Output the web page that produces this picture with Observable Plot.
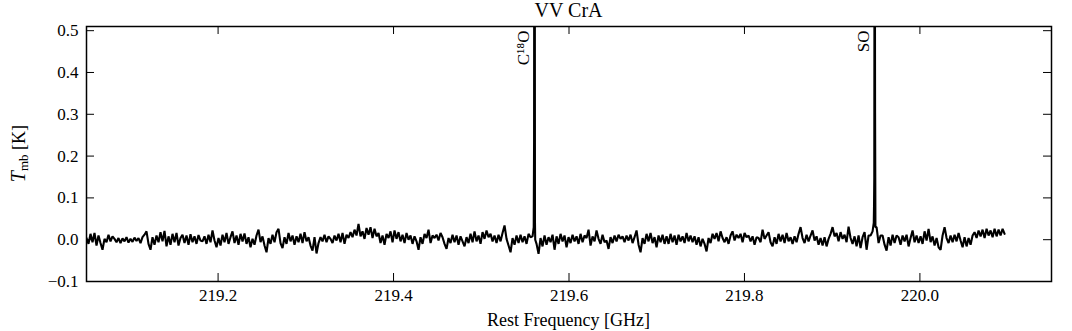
<!DOCTYPE html>
<html>
<head>
<meta charset="utf-8">
<script src="https://cdn.jsdelivr.net/npm/d3@7"></script>
<script src="https://cdn.jsdelivr.net/npm/@observablehq/plot@0.6"></script>
<style>
  html, body { margin: 0; padding: 0; background: #fff; overflow: hidden; }
  #title {
    width: 965px; padding-left: 86px; padding-right: 21px;
    height: 20px; line-height: 20px; text-align: center;
    font-family: "Liberation Serif", serif; font-size: 20px; color: #000;
  }
</style>
</head>
<body>
<div id="title">VV CrA</div>
<div id="chart"></div>
<script>
// ---- data -------------------------------------------------------------
const freqStart = 219.05;       // GHz, first channel
const channelWidth = 0.00228;   // GHz per channel
const xDomain = [219.05, 220.15];
const yDomain = [-0.1, 0.51];
const xTicks = [219.2, 219.4, 219.6, 219.8, 220.0];
const yTicks = [-0.1, 0.0, 0.1, 0.2, 0.3, 0.4, 0.5];
const lineNames = ["C¹⁸O", "SO"];
const lineFreqs = [219.5607, 219.9483];

// T_mb [K] per channel
const tmbSeg1 = [0.004, -0.010, 0.014, -0.006, 0.016, -0.014, 0.010, -0.008, -0.024, 0.002,
  -0.006, 0.012, -0.004, 0.008, 0.002, -0.006, 0.004, -0.008, 0.003, -0.004,
  0.006, -0.007, 0.002, -0.005, 0.005, -0.003, 0.004, -0.008, 0.006, 0.012,
  0.020, -0.010, -0.024, 0.006, -0.012, 0.010, -0.006, 0.018, -0.004, 0.021,
  -0.016, 0.008, -0.012, 0.014, -0.006, 0.016, -0.014, 0.004, 0.012, -0.008,
  0.010, -0.012, 0.013, -0.006, 0.008, -0.010, 0.011, -0.002];
const tmbSeg2 = [-0.004, 0.008, -0.010, 0.012, -0.006, 0.022, -0.002, -0.018, 0.004, -0.014,
  0.012, -0.006, 0.016, -0.010, 0.006, 0.020, -0.008, 0.010, -0.012, 0.014,
  -0.004, 0.015, -0.010, 0.006, -0.018, 0.002, -0.012, 0.010, 0.024, -0.006,
  0.008, -0.014, -0.030, 0.004, -0.010, 0.012, -0.006, 0.018, 0.026, -0.008,
  -0.020, 0.006, -0.010, 0.016, -0.004, 0.010, -0.012, 0.008, -0.006, 0.014,
  -0.008, 0.018, -0.004, 0.006, -0.014, -0.026, 0.006, -0.033];
const tmbSeg3 = [-0.008, 0.006, -0.004, 0.012, -0.006, 0.008, 0.002, -0.008, 0.010, -0.002,
  0.014, -0.006, 0.016, -0.010, 0.012, 0.004, 0.018, 0.006, 0.024, 0.010,
  0.038, 0.008, 0.020, 0.002, 0.028, 0.012, 0.030, 0.004, 0.026, 0.008,
  0.016, -0.008, 0.010, -0.012, 0.014, 0.004, 0.020, -0.006, 0.022, 0.002,
  0.018, -0.004, 0.012, -0.008, 0.016, 0.000, 0.010, -0.010, 0.008, -0.004,
  -0.024, 0.006, -0.010, 0.014, 0.004, 0.024, -0.008, 0.010];
const tmbSeg4 = [0.004, 0.012, -0.002, 0.016, 0.006, -0.010, -0.022, 0.004, -0.008, 0.012,
  -0.006, 0.010, -0.012, 0.008, -0.004, -0.016, 0.006, -0.008, 0.014, -0.006,
  0.020, -0.004, 0.010, -0.010, 0.018, 0.002, 0.022, 0.006, 0.014, -0.004,
  0.010, -0.008, 0.012, -0.004, 0.016, 0.034, 0.002, -0.014, -0.030, 0.004,
  -0.012, 0.010, -0.008, 0.012, -0.006, 0.008, -0.010, 0.014, 0.006, 0.008,
  1.200, -0.010, -0.034, 0.004, -0.016, 0.010, -0.012, 0.006];
const tmbSeg5 = [-0.006, 0.012, -0.024, 0.008, -0.010, 0.014, -0.004, 0.010, -0.018, 0.006,
  -0.008, 0.012, -0.004, 0.008, -0.010, 0.014, -0.006, 0.010, 0.004, 0.024,
  -0.014, 0.008, -0.004, 0.022, 0.002, -0.010, 0.012, -0.006, -0.002, -0.022,
  0.006, -0.008, 0.010, -0.004, 0.012, 0.002, 0.008, -0.006, 0.010, -0.002,
  0.012, -0.008, 0.006, 0.022, -0.012, -0.030, 0.004, -0.010, 0.014, -0.004,
  0.016, -0.008, 0.006, -0.018, 0.010, -0.006, 0.012, -0.010];
const tmbSeg6 = [0.008, -0.010, 0.014, -0.006, 0.010, -0.012, 0.012, -0.004, 0.008, -0.008,
  0.016, -0.004, 0.010, -0.006, 0.008, -0.012, 0.006, -0.016, 0.002, -0.010,
  -0.028, 0.004, -0.008, 0.014, 0.002, 0.016, -0.004, 0.020, 0.004, -0.006,
  0.006, -0.010, 0.010, 0.020, -0.002, 0.012, 0.004, 0.014, -0.006, 0.016,
  0.006, 0.010, -0.004, 0.008, -0.012, 0.006, 0.004, -0.006, 0.024, 0.002,
  0.010, 0.018, -0.006, -0.016, 0.006, -0.010, 0.014, -0.004];
const tmbSeg7 = [0.012, -0.008, 0.016, -0.004, 0.006, -0.010, 0.008, -0.006, 0.014, 0.030,
  0.004, -0.008, 0.012, -0.004, 0.010, 0.022, -0.002, 0.008, -0.012, 0.004,
  -0.014, 0.006, -0.016, 0.002, 0.014, 0.030, 0.008, 0.016, -0.004, 0.018,
  0.002, 0.012, -0.006, 0.031, 0.004, -0.010, 0.008, -0.016, 0.010, -0.020,
  0.006, 0.018, -0.024, 0.010, 0.010, 0.020, 0.900, 0.030, -0.008, 0.010,
  0.010, -0.012, -0.026, 0.006, -0.014, 0.012, -0.008, 0.010];
const tmbSeg8 = [0.006, -0.012, 0.010, -0.004, 0.012, -0.016, 0.004, 0.022, -0.006, 0.010,
  -0.008, 0.008, -0.010, 0.020, -0.002, 0.026, -0.006, 0.008, -0.014, 0.004,
  -0.018, -0.024, 0.010, 0.030, 0.004, -0.008, 0.010, -0.006, 0.012, -0.004,
  0.016, -0.002, -0.018, 0.006, -0.016, 0.004, -0.012, 0.010, 0.018, 0.004,
  0.022, 0.008, 0.024, 0.004, 0.026, 0.010, 0.022, 0.006, 0.026, 0.008,
  0.024, 0.010, 0.026, 0.014];

// finely sampled line cores (GHz, K)
const c18oCoreFreq = [219.5598, 219.5602, 219.5605, 219.5609, 219.5612, 219.5615];
const c18oCoreTmb  = [0.030, 0.233, 1.200, 1.100, 0.042, 0.000];
const soCoreFreq = [219.9474, 219.9477, 219.9480, 219.9483, 219.9486, 219.9489, 219.9493];
const soCoreTmb  = [0.040, 0.080, 0.150, 0.900, 0.850, 0.305, 0.030];

// ---- build ------------------------------------------------------------
const tmb = [].concat(tmbSeg1, tmbSeg2, tmbSeg3, tmbSeg4, tmbSeg5, tmbSeg6, tmbSeg7, tmbSeg8);
const grid = tmb.map((t, i) => ({freq: freqStart + i * channelWidth, tmb: t}));
const cores = c18oCoreFreq.map((f, i) => ({freq: f, tmb: c18oCoreTmb[i]}))
  .concat(soCoreFreq.map((f, i) => ({freq: f, tmb: soCoreTmb[i]})));
const spectrum = grid.concat(cores).sort((a, b) => a.freq - b.freq);
const lineLabels = lineNames.map((name, i) => ({name, freq: lineFreqs[i]}));

const W = 1072, H = 311;
const mL = 86, mR = 21, mT = 6, mB = 50;
const frameW = W - mL - mR, frameH = H - mT - mB;
const tickLen = 8;
const fmt = d3.format(".1f");

const chart = Plot.plot({
  width: W, height: H,
  marginLeft: mL, marginRight: mR, marginTop: mT, marginBottom: mB,
  style: {fontFamily: '"Liberation Serif", serif', fontSize: "17px", color: "black", background: "white", overflow: "visible"},
  x: {domain: xDomain},
  y: {domain: yDomain},
  marks: [
    Plot.line(spectrum, {x: "freq", y: "tmb", stroke: "black", strokeWidth: 2.1, strokeLinejoin: "miter", clip: true}),
    Plot.frame({stroke: "black", strokeWidth: 1.5}),
    Plot.tickX(xTicks, {x: d => d, stroke: "black", strokeWidth: 1, insetTop: frameH - tickLen}),
    Plot.tickX(xTicks, {x: d => d, stroke: "black", strokeWidth: 1, insetBottom: frameH - tickLen}),
    Plot.tickY(yTicks, {y: d => d, stroke: "black", strokeWidth: 1, insetRight: frameW - tickLen}),
    Plot.tickY(yTicks, {y: d => d, stroke: "black", strokeWidth: 1, insetLeft: frameW - tickLen}),
    Plot.axisX(xTicks, {tickSize: 0, tickPadding: 7, tickFormat: fmt, label: null}),
    Plot.axisY(yTicks, {tickSize: 0, tickPadding: 8, tickFormat: fmt, label: null}),
    Plot.text(lineLabels, {x: "freq", text: "name", frameAnchor: "top", rotate: -90,
      textAnchor: "end", lineAnchor: "bottom", dx: -5.5, dy: 4, fill: "black", fontSize: 17})
  ]
});

const svg = d3.select(chart);
// x label
svg.append("text")
  .attr("x", mL + frameW / 2).attr("y", 306)
  .attr("text-anchor", "middle")
  .attr("font-size", 18).attr("fill", "black")
  .text("Rest Frequency [GHz]");
// y label with italic T and subscript mb
const yl = svg.append("text")
  .attr("transform", `translate(25,${mT + frameH / 2}) rotate(-90)`)
  .attr("text-anchor", "middle")
  .attr("font-size", 18).attr("fill", "black");
yl.append("tspan").attr("font-style", "italic").attr("font-size", 20).text("T");
yl.append("tspan").attr("font-size", 13).attr("dy", 3).text("mb");
yl.append("tspan").attr("dy", -3).text(" [K]");

document.getElementById("chart").appendChild(chart);
</script>
</body>
</html>
